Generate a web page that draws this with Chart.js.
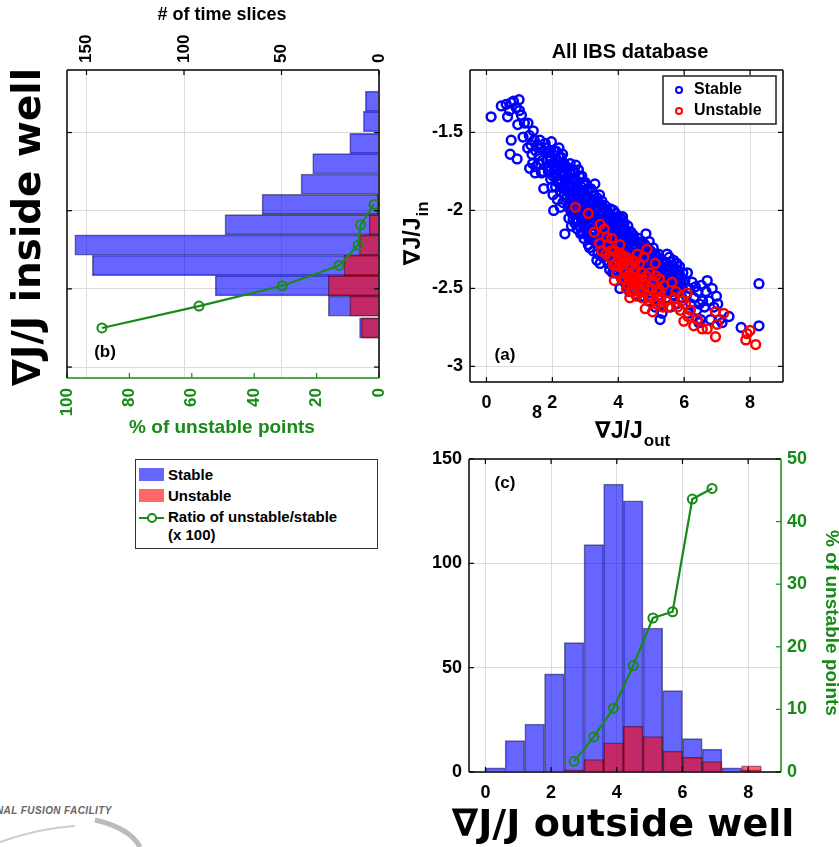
<!DOCTYPE html>
<html>
<head>
<meta charset="utf-8">
<script src="https://cdn.jsdelivr.net/npm/chart.js@4.4.0/dist/chart.umd.min.js"></script>
<style>
  body { margin: 0; background: #fff; width: 839px; height: 847px; position: relative; overflow: hidden; font-family: "Liberation Sans", Arial, sans-serif; }
  canvas { position: absolute; }
  #cb { left: 0; top: 0; }
  #ca { left: 400px; top: 0; }
  #cc { left: 400px; top: 440px; }
  .abs { position: absolute; }
  #leg { left: 135px; top: 459px; width: 241px; height: 88px; border: 1.5px solid #333; background: #fff; }
  #leg span { position: absolute; font-weight: bold; font-size: 15px; color: #000; line-height: 17px; white-space: nowrap; }
  #leg i { position: absolute; display: block; }
  #wm { left: -4px; top: 805px; font: italic bold 10px "Liberation Sans", Arial, sans-serif; color: #666; letter-spacing: 0.4px; }
</style>
</head>
<body>
<canvas id="cb" width="400" height="450"></canvas>
<canvas id="ca" width="439" height="450"></canvas>
<canvas id="cc" width="439" height="407"></canvas>

<div id="leg" class="abs">
  <i style="left:3px;top:8px;width:25px;height:13px;background:rgba(0,0,255,0.6)"></i>
  <span style="left:32px;top:6px">Stable</span>
  <i style="left:3px;top:29px;width:25px;height:13px;background:rgba(255,0,0,0.6)"></i>
  <span style="left:32px;top:27px">Unstable</span>
  <i style="left:3px;top:57px;width:25px;height:2px;background:#178a17"></i>
  <i style="left:11px;top:53px;width:6px;height:6px;border:2px solid #178a17;border-radius:50%;background:#fff"></i>
  <span style="left:32px;top:48px">Ratio of unstable/stable</span>
  <span style="left:32px;top:66px">(x 100)</span>
</div>

<div id="wm" class="abs">NAL FUSION FACILITY</div>
<svg class="abs" style="left:0;top:812px" width="170" height="35">
  <path d="M0 30 Q40 16 75 14" stroke="#ccc" stroke-width="2" fill="none"/>
  <path d="M95 8 Q130 16 140 35" stroke="#bbb" stroke-width="5" fill="none"/>
</svg>

<script>
const GREEN = '#178a17';
const GRID = '#dcdcdc';
const FONT = '"Liberation Sans", "DejaVu Sans", Arial, sans-serif';
const BIG = '"DejaVu Sans", sans-serif';

// panel (b): histogram of grad J/J inside the well (horizontal bars)
const inBins = [-1.30, -1.43, -1.57, -1.70, -1.83, -1.96, -2.09, -2.22, -2.35, -2.48, -2.61, -2.75];
const inStable = [7, 8, 15, 34, 40, 60, 79, 156, 147, 84, 26, 10];
const inUnstable = [0, 0, 0, 0, 0, 1, 5, 10, 18, 26, 15, 9];
const inRatioY = [-1.96, -2.09, -2.22, -2.35, -2.48, -2.61, -2.75];
const inRatio = [1.6, 5.9, 6.7, 12.8, 31, 57.7, 88.8];
const inTicks = [-3, -2.5, -2, -1.5];
const sliceTicks = [0, 50, 100, 150];
const pctTicks = [0, 20, 40, 60, 80, 100];

// panel (c): histogram of grad J/J outside the well
const outBins = [0.3, 0.9, 1.5, 2.1, 2.7, 3.3, 3.9, 4.5, 5.1, 5.7, 6.3, 6.9, 7.5, 8.1];
const outStable = [2, 15, 23, 47, 62, 109, 138, 130, 69, 39, 16, 11, 2, 1];
const outUnstable = [0, 0, 0, 0, 1, 6, 14, 22, 17, 10, 7, 5, 0, 3];
const outRatioX = [2.7, 3.3, 3.9, 4.5, 5.1, 5.7, 6.3, 6.9];
const outRatio = [1.7, 5.6, 10.2, 17, 24.6, 25.6, 43.6, 45.3];
const outTicks = [0, 2, 4, 6, 8];
const countTicks = [0, 50, 100, 150];
const pct50Ticks = [0, 10, 20, 30, 40, 50];

// panel (a): all IBS database, [grad J/J out, grad J/J in]
const stablePts = [
  [0.14,-1.40],[0.45,-1.33],[0.60,-1.32],[0.75,-1.31],[0.99,-1.29],[0.90,-1.34],[0.64,-1.40],[1.06,-1.39],[0.95,-1.45],
  [0.75,-1.55],[1.11,-1.53],[0.72,-1.64],[0.93,-1.67],[0.82,-1.30],[1.00,-1.36],[0.70,-1.36],[1.15,-1.44],
  [1.26,-1.44],[1.42,-1.49],[1.31,-1.73],[1.67,-1.76],[1.30,-1.52],[1.35,-1.58],[1.45,-1.55],[1.50,-1.62],[1.55,-1.58],
  [1.60,-1.65],[1.40,-1.70],[1.50,-1.72],[1.65,-1.60],[1.70,-1.68],[1.75,-1.62],[1.25,-1.60],[1.38,-1.64],[1.58,-1.70],
  [1.72,-1.75],[1.48,-1.76],[1.78,-1.57],[1.62,-1.55],[1.74,-1.86],
  [1.82,-1.60],[1.85,-1.68],[1.88,-1.75],[1.92,-1.63],[1.95,-1.80],[1.97,-1.56],[2.00,-1.70],[2.04,-2.00],[2.05,-1.62],
  [2.08,-1.77],[2.10,-1.85],[2.12,-1.67],[2.15,-1.93],[2.18,-1.72],[2.20,-1.60],[2.22,-1.80],[2.25,-1.88],[2.27,-1.66],
  [2.30,-1.75],[2.32,-1.95],[2.35,-1.70],[2.38,-2.15],[2.38,-1.83],[1.90,-1.72],[2.02,-1.90],[2.13,-1.78],[2.28,-1.82],[2.36,-1.90],
  [1.84,-1.72],[1.93,-1.68],[1.99,-1.85],[2.06,-1.72],[2.11,-1.62],[2.16,-1.82],[2.21,-1.70],[2.26,-1.77],[2.31,-1.64],
  [2.33,-1.86],[2.39,-1.76],[2.24,-1.98],
  [2.20,-1.66],[2.26,-1.72],[2.34,-1.78],[2.40,-1.86],[2.10,-1.74],[2.02,-1.78],[1.96,-1.66],[1.88,-1.62],
  [2.42,-1.72],[2.44,-1.80],[2.46,-1.88],[2.48,-1.98],[2.50,-2.05],[2.52,-1.76],[2.55,-1.92],[2.57,-1.84],[2.60,-2.02],
  [2.62,-1.74],[2.64,-1.97],[2.66,-1.88],[2.68,-2.08],[2.70,-1.80],[2.71,-1.71],[2.73,-1.95],[2.75,-2.12],[2.77,-1.86],
  [2.80,-2.02],[2.82,-1.78],[2.84,-1.92],[2.86,-2.15],[2.88,-1.85],[2.90,-2.07],[2.92,-1.98],[2.94,-1.82],[2.96,-2.18],
  [2.98,-1.90],[2.50,-1.84],[2.58,-2.10],[2.65,-1.80],[2.78,-1.96],[2.87,-2.00],[2.95,-2.10],
  [2.43,-1.92],[2.47,-1.78],[2.51,-1.96],[2.54,-1.70],[2.56,-2.00],[2.59,-1.80],[2.61,-1.90],[2.63,-2.06],[2.67,-1.94],
  [2.69,-1.76],[2.72,-2.02],[2.74,-1.88],[2.76,-2.06],[2.79,-1.74],[2.81,-1.90],[2.83,-2.10],[2.85,-1.98],[2.89,-1.78],
  [2.91,-2.14],[2.93,-1.88],[2.97,-2.02],[2.99,-1.82],
  [2.45,-1.84],[2.53,-1.88],[2.57,-1.94],[2.62,-1.84],[2.66,-2.00],[2.70,-1.92],[2.74,-1.82],[2.78,-2.06],[2.82,-1.96],
  [2.86,-1.88],[2.90,-1.94],[2.94,-2.04],[2.98,-1.96],
  [3.00,-1.84],[3.02,-1.95],[3.04,-2.05],[3.05,-2.15],[3.07,-1.88],[3.09,-2.22],[3.10,-2.00],[3.12,-1.92],[3.14,-2.10],
  [3.16,-1.86],[3.18,-2.18],[3.20,-2.03],[3.22,-1.96],[3.24,-2.26],[3.26,-1.90],[3.27,-2.12],[3.29,-1.83],[3.30,-2.05],
  [3.32,-2.20],[3.34,-1.98],[3.36,-1.92],[3.38,-2.28],[3.40,-2.08],[3.42,-2.15],[3.44,-1.96],[3.46,-2.02],[3.48,-2.24],
  [3.50,-1.94],[3.52,-2.12],[3.54,-2.30],[3.56,-2.00],[3.58,-2.18],[3.08,-2.08],[3.15,-2.00],[3.23,-2.14],[3.33,-2.10],
  [3.41,-2.00],[3.51,-2.05],[3.57,-2.25],[3.13,-2.24],[3.35,-2.32],[3.45,-2.34],
  [3.01,-2.10],[3.03,-1.90],[3.06,-2.00],[3.11,-2.18],[3.17,-1.95],[3.19,-2.08],[3.21,-1.88],[3.25,-2.05],[3.28,-2.20],
  [3.31,-1.94],[3.37,-2.04],[3.39,-2.18],[3.43,-1.90],[3.47,-2.10],[3.49,-2.02],[3.53,-1.98],[3.55,-2.20],[3.59,-2.06],
  [3.28,-2.00],[3.47,-2.16],
  [3.02,-2.02],[3.06,-1.93],[3.10,-2.08],[3.14,-1.96],[3.18,-2.02],[3.22,-2.08],[3.26,-1.98],[3.30,-2.14],[3.34,-2.04],
  [3.38,-1.98],[3.42,-2.06],[3.46,-1.96],[3.50,-2.16],[3.54,-2.08],[3.58,-2.00],
  [3.60,-1.97],[3.62,-2.08],[3.64,-2.20],[3.66,-2.32],[3.68,-2.02],[3.70,-2.14],[3.72,-2.26],[3.74,-2.38],[3.76,-1.99],
  [3.78,-2.10],[3.80,-2.22],[3.82,-2.34],[3.84,-2.05],[3.86,-2.16],[3.88,-2.28],[3.90,-2.40],[3.92,-2.02],[3.94,-2.12],
  [3.96,-2.24],[3.98,-2.36],[4.00,-2.08],[4.02,-2.18],[4.04,-2.30],[4.05,-2.50],[4.06,-2.42],[4.08,-2.05],[4.10,-2.14],
  [4.12,-2.26],[4.14,-2.38],[4.16,-2.10],[4.18,-2.20],[4.19,-2.46],[3.65,-2.00],[3.71,-2.05],[3.79,-2.30],[3.87,-2.08],
  [3.95,-2.30],[4.03,-2.12],[4.11,-2.34],[4.17,-2.28],[3.73,-2.18],[3.89,-2.20],[3.97,-2.16],[4.09,-2.22],
  [3.61,-2.14],[3.63,-2.26],[3.67,-2.10],[3.69,-2.20],[3.75,-2.12],[3.77,-2.24],[3.81,-2.04],[3.83,-2.16],[3.85,-2.26],
  [3.91,-2.08],[3.93,-2.32],[3.99,-2.04],[4.01,-2.26],[4.07,-2.16],[4.13,-2.04],[4.15,-2.30],[4.21,-2.40],[3.69,-2.34],
  [3.83,-2.40],[4.01,-2.40],
  [3.62,-2.02],[3.66,-2.16],[3.70,-2.08],[3.74,-2.02],[3.78,-2.18],[3.82,-2.10],[3.86,-2.00],[3.90,-2.14],[3.94,-2.06],
  [3.98,-2.20],[4.02,-2.06],[4.06,-2.10],[4.10,-2.20],[4.14,-2.16],[4.18,-2.08],
  [4.20,-2.12],[4.22,-2.24],[4.24,-2.34],[4.26,-2.46],[4.28,-2.16],[4.30,-2.28],[4.32,-2.40],[4.34,-2.52],[4.36,-2.14],
  [4.38,-2.22],[4.40,-2.32],[4.42,-2.44],[4.44,-2.18],[4.46,-2.28],[4.48,-2.38],[4.50,-2.50],[4.52,-2.20],[4.54,-2.30],
  [4.56,-2.42],[4.58,-2.54],[4.60,-2.24],[4.62,-2.34],[4.64,-2.46],[4.66,-2.22],[4.68,-2.32],[4.70,-2.44],[4.72,-2.55],
  [4.74,-2.26],[4.76,-2.36],[4.78,-2.48],[4.25,-2.20],[4.35,-2.30],[4.45,-2.24],[4.55,-2.36],[4.65,-2.30],[4.75,-2.42],
  [4.33,-2.18],[4.53,-2.26],[4.71,-2.30],
  [4.23,-2.16],[4.27,-2.36],[4.29,-2.10],[4.31,-2.22],[4.37,-2.40],[4.39,-2.14],[4.41,-2.26],[4.43,-2.36],[4.47,-2.20],
  [4.49,-2.30],[4.51,-2.44],[4.57,-2.20],[4.59,-2.34],[4.61,-2.18],[4.63,-2.40],[4.67,-2.26],[4.69,-2.38],[4.73,-2.20],
  [4.77,-2.30],[4.79,-2.40],
  [4.22,-2.18],[4.26,-2.24],[4.30,-2.16],[4.34,-2.24],[4.38,-2.18],[4.42,-2.22],[4.46,-2.16],[4.50,-2.26],[4.54,-2.22],
  [4.58,-2.26],[4.62,-2.28],[4.66,-2.36],[4.70,-2.24],[4.74,-2.32],[4.78,-2.24],
  [4.80,-2.28],[4.82,-2.38],[4.84,-2.15],[4.86,-2.50],[4.88,-2.30],[4.90,-2.40],[4.92,-2.58],[4.95,-2.26],[4.98,-2.35],
  [5.00,-2.46],[5.02,-2.56],[5.05,-2.30],[5.08,-2.40],[5.10,-2.52],[5.12,-2.62],[5.15,-2.34],[5.18,-2.44],[5.20,-2.55],
  [5.22,-2.28],[5.25,-2.38],[5.27,-2.70],[5.28,-2.48],[5.30,-2.60],[5.32,-2.32],[5.35,-2.42],[5.38,-2.52],[4.94,-2.20],
  [5.06,-2.24],[5.33,-2.66],[5.14,-2.48],
  [4.81,-2.22],[4.83,-2.46],[4.87,-2.35],[4.91,-2.28],[4.97,-2.44],[4.99,-2.30],[5.03,-2.36],[5.07,-2.48],[5.11,-2.28],
  [5.16,-2.40],[5.19,-2.30],[5.24,-2.46],[5.29,-2.36],[5.34,-2.50],[5.37,-2.40],
  [4.82,-2.30],[4.86,-2.26],[4.90,-2.34],[4.94,-2.30],[4.98,-2.26],[5.02,-2.32],[5.06,-2.36],[5.10,-2.32],[5.14,-2.38],
  [5.18,-2.36],[5.22,-2.34],[5.26,-2.42],[5.30,-2.40],[5.34,-2.36],[5.38,-2.44],
  [5.40,-2.34],[5.43,-2.46],[5.46,-2.56],[5.48,-2.28],[5.52,-2.40],[5.55,-2.50],[5.58,-2.62],[5.60,-2.33],[5.63,-2.44],
  [5.66,-2.54],[5.70,-2.38],[5.73,-2.48],[5.76,-2.60],[5.80,-2.42],[5.83,-2.52],[5.86,-2.36],[5.90,-2.46],[5.93,-2.56],
  [5.96,-2.40],[5.55,-2.30],[5.68,-2.32],[5.78,-2.34],
  [5.42,-2.40],[5.47,-2.34],[5.50,-2.48],[5.57,-2.40],[5.62,-2.52],[5.67,-2.42],[5.72,-2.40],[5.82,-2.46],[5.88,-2.42],
  [5.95,-2.50],[5.44,-2.38],[5.50,-2.36],[5.56,-2.44],[5.62,-2.38],[5.68,-2.46],[5.74,-2.44],[5.80,-2.38],[5.86,-2.48],
  [5.92,-2.44],
  [6.02,-2.45],[6.06,-2.55],[6.10,-2.40],[6.15,-2.50],[6.20,-2.60],[6.24,-2.46],[6.30,-2.56],[6.34,-2.49],[6.38,-2.64],
  [6.42,-2.52],[6.46,-2.60],[6.50,-2.70],[6.52,-2.48],[6.56,-2.58],[6.12,-2.66],[6.45,-2.72],
  [6.62,-2.62],[6.66,-2.52],[6.70,-2.45],[6.75,-2.58],[6.85,-2.50],[6.90,-2.62],[6.98,-2.55],[7.02,-2.60],[7.08,-2.70],
  [6.80,-2.70],[7.15,-2.72],
  [7.36,-2.68],[7.73,-2.75],[8.27,-2.47],[8.27,-2.74]
];
const unstablePts = [
  [2.70,-1.98],[3.09,-2.02],[3.45,-2.09],[3.27,-2.14],[3.43,-2.21],[3.65,-2.17],[3.50,-2.26],[3.58,-2.12],
  [3.70,-2.22],[3.75,-2.30],[3.80,-2.18],[3.85,-2.35],[3.90,-2.26],[3.95,-2.40],[4.00,-2.32],[4.05,-2.22],[4.10,-2.44],
  [4.15,-2.30],[3.88,-2.45],[4.18,-2.38],[3.62,-2.28],[3.98,-2.28],
  [4.02,-2.36],[4.12,-2.34],[3.92,-2.34],[3.78,-2.26],[4.08,-2.28],
  [4.22,-2.40],[4.26,-2.30],[4.30,-2.48],[4.34,-2.36],[4.38,-2.52],[4.40,-2.42],[4.44,-2.32],[4.48,-2.46],[4.52,-2.38],
  [4.55,-2.55],[4.58,-2.28],[4.60,-2.44],[4.64,-2.34],[4.66,-2.50],[4.70,-2.40],[4.72,-2.56],[4.76,-2.46],[4.78,-2.30],
  [4.35,-2.56],[4.50,-2.33],[4.62,-2.52],[4.25,-2.50],
  [4.20,-2.44],[4.28,-2.42],[4.32,-2.32],[4.42,-2.50],[4.46,-2.40],[4.56,-2.46],[4.68,-2.44],[4.74,-2.52],
  [4.82,-2.63],[4.87,-2.25],[4.90,-2.50],[4.95,-2.40],[5.00,-2.56],[5.04,-2.65],[5.08,-2.46],[5.12,-2.34],[5.16,-2.52],
  [5.20,-2.60],[5.25,-2.44],[5.30,-2.56],[5.35,-2.62],[4.85,-2.42],[5.10,-2.58],[5.22,-2.50],[5.38,-2.48],
  [4.80,-2.48],[4.92,-2.56],[5.02,-2.50],[5.14,-2.42],[5.28,-2.52],
  [5.45,-2.58],[5.52,-2.62],[5.63,-2.46],[5.70,-2.56],[5.75,-2.52],[5.88,-2.64],[5.92,-2.58],[5.99,-2.71],[5.80,-2.62],
  [6.04,-2.60],[6.09,-2.53],[6.19,-2.64],[6.29,-2.74],[6.40,-2.70],[6.55,-2.76],[6.12,-2.68],
  [6.70,-2.76],[6.95,-2.81],[7.00,-2.73],[6.95,-2.65],[7.20,-2.66],
  [7.91,-2.79],[7.87,-2.83],[8.17,-2.86],[8.00,-2.77]
];

Chart.defaults.animation = false;
Chart.defaults.font.family = FONT;
Chart.defaults.color = '#000';
Chart.defaults.plugins.legend.display = false;
Chart.defaults.plugins.tooltip.enabled = false;

function setTicks(list) {
  return s => { s.ticks = list.map(v => ({ value: v })); };
}
function fixH(h) {
  return s => { s.height = h; s.paddingLeft = s.paddingRight = s.paddingTop = s.paddingBottom = 0; };
}
function fixW(w) {
  return s => { s.width = w; s.paddingLeft = s.paddingRight = s.paddingTop = s.paddingBottom = 0; };
}
function tickFont(size) { return { size: size, weight: 'bold', family: FONT }; }

// chart area frame, colours [top, right, bottom, left]
function frame(ctx, a, cols) {
  const seg = [[a.left, a.top, a.right, a.top], [a.right, a.top, a.right, a.bottom],
               [a.left, a.bottom, a.right, a.bottom], [a.left, a.top, a.left, a.bottom]];
  ctx.save();
  ctx.lineWidth = 1.5;
  seg.forEach((s, i) => {
    ctx.strokeStyle = cols[i];
    ctx.beginPath(); ctx.moveTo(s[0], s[1]); ctx.lineTo(s[2], s[3]); ctx.stroke();
  });
  ctx.restore();
}
// MATLAB style ticks pointing inside the box
function marks(ctx, a, scale, sides, color) {
  const L = 5;
  ctx.save();
  ctx.strokeStyle = color; ctx.lineWidth = 1.2;
  scale.ticks.forEach(t => {
    const p = scale.getPixelForValue(t.value);
    sides.forEach(s => {
      ctx.beginPath();
      if (s === 'top') { ctx.moveTo(p, a.top); ctx.lineTo(p, a.top + L); }
      if (s === 'bottom') { ctx.moveTo(p, a.bottom); ctx.lineTo(p, a.bottom - L); }
      if (s === 'left') { ctx.moveTo(a.left, p); ctx.lineTo(a.left + L, p); }
      if (s === 'right') { ctx.moveTo(a.right, p); ctx.lineTo(a.right - L, p); }
      ctx.stroke();
    });
  });
  ctx.restore();
}
function text(ctx, s, x, y, font, color, rot, align) {
  ctx.save();
  ctx.translate(x, y);
  if (rot) ctx.rotate(rot);
  ctx.font = font; ctx.fillStyle = color || '#000';
  ctx.textAlign = align || 'center'; ctx.textBaseline = 'middle';
  ctx.fillText(s, 0, 0);
  ctx.restore();
}
// label with a subscript, centred on x,y
function subText(ctx, main, sub, x, y, size, rot) {
  const f1 = 'bold ' + size + 'px ' + FONT, f2 = 'bold ' + Math.round(size * 0.75) + 'px ' + FONT;
  ctx.save();
  ctx.translate(x, y);
  if (rot) ctx.rotate(rot);
  ctx.font = f1; const w1 = ctx.measureText(main).width;
  ctx.font = f2; const w2 = ctx.measureText(sub).width;
  const x0 = -(w1 + w2) / 2;
  ctx.fillStyle = '#000'; ctx.textAlign = 'left'; ctx.textBaseline = 'alphabetic';
  ctx.font = f1; ctx.fillText(main, x0, size * 0.36);
  ctx.font = f2; ctx.fillText(sub, x0 + w1 + 1, size * 0.36 + size * 0.32);
  ctx.restore();
}
// big label sized to a given length
function bigText(ctx, s, x, y, len, rot) {
  ctx.save();
  ctx.font = 'bold 40px ' + BIG;
  const size = 40 * len / ctx.measureText(s).width;
  ctx.restore();
  text(ctx, s, x, y, 'bold ' + size.toFixed(1) + 'px ' + BIG, '#000', rot);
}

// ---------- panel (b)
new Chart(document.getElementById('cb'), {
  type: 'bar',
  data: {
    datasets: [
      {
        type: 'line', label: 'Ratio of unstable/stable (x 100)',
        data: inRatio.map((v, i) => ({ x: v, y: inRatioY[i] })),
        xAxisID: 'xBot', yAxisID: 'y', order: 0,
        borderColor: GREEN, borderWidth: 2.2, pointRadius: 4.5, pointBorderWidth: 2,
        pointBorderColor: GREEN, pointBackgroundColor: 'rgba(0,0,0,0)', tension: 0
      },
      {
        label: 'Unstable', indexAxis: 'y', xAxisID: 'xTop', yAxisID: 'y', order: 1,
        data: inBins.map((b, i) => ({ y: b, x: inUnstable[i] })).filter(d => d.x > 0),
        backgroundColor: 'rgba(255,0,0,0.6)', borderColor: 'rgba(40,0,30,0.55)', borderWidth: 1,
        barPercentage: 1, categoryPercentage: 1, grouped: false
      },
      {
        label: 'Stable', indexAxis: 'y', xAxisID: 'xTop', yAxisID: 'y', order: 2,
        data: inBins.map((b, i) => ({ y: b, x: inStable[i] })).filter(d => d.x > 0),
        backgroundColor: 'rgba(0,0,255,0.6)', borderColor: 'rgba(0,0,60,0.55)', borderWidth: 1,
        barPercentage: 1, categoryPercentage: 1, grouped: false
      }
    ]
  },
  options: {
    responsive: false,
    layout: { padding: { right: 21 } },
    scales: {
      y: {
        type: 'linear', position: 'left', min: -3.07, max: -1.1, offset: false,
        afterBuildTicks: setTicks(inTicks), afterFit: fixW(67),
        ticks: { display: false },
        grid: { color: GRID, drawTicks: false, offset: false }, border: { display: false }
      },
      xTop: {
        type: 'linear', position: 'top', reverse: true, min: 0, max: 160, offset: false,
        afterBuildTicks: setTicks(sliceTicks), afterFit: fixH(70),
        ticks: { display: false },
        grid: { color: GRID, drawTicks: false, offset: false }, border: { display: false }
      },
      xBot: {
        type: 'linear', position: 'bottom', reverse: true, min: 0, max: 100, offset: false,
        afterBuildTicks: setTicks(pctTicks), afterFit: fixH(72),
        ticks: { display: false },
        grid: { display: false, drawTicks: false, offset: false }, border: { display: false }
      }
    }
  },
  plugins: [{
    id: 'decorB',
    afterDraw(chart) {
      const ctx = chart.ctx, a = chart.chartArea;
      const top = chart.scales.xTop, bot = chart.scales.xBot;
      marks(ctx, a, chart.scales.y, ['left', 'right'], '#000');
      marks(ctx, a, top, ['top'], '#000');
      marks(ctx, a, bot, ['bottom'], GREEN);
      frame(ctx, a, ['#000', '#000', GREEN, '#000']);
      // rotated tick labels, reading upwards
      sliceTicks.forEach(v => text(ctx, String(v), top.getPixelForValue(v), a.top - 7, 'bold 17px ' + FONT, '#000', -Math.PI / 2, 'left'));
      pctTicks.forEach(v => text(ctx, String(v), bot.getPixelForValue(v), a.bottom + 10, 'bold 17px ' + FONT, GREEN, -Math.PI / 2, 'right'));
      text(ctx, '# of time slices', 222, 15, 'bold 18px ' + FONT, '#000');
      text(ctx, '% of unstable points', 222, 428, 'bold 19px ' + FONT, GREEN);
      text(ctx, '(b)', 105, 352, 'bold 17px ' + FONT, '#000');
      bigText(ctx, '\u2207J/J inside well', 30, 227, 318, -Math.PI / 2);
    }
  }]
});

// ---------- panel (a)
new Chart(document.getElementById('ca'), {
  type: 'scatter',
  data: {
    datasets: [
      {
        label: 'Unstable', data: unstablePts.map(p => ({ x: p[0], y: p[1] })),
        pointRadius: 4.4, pointBorderWidth: 2.5, pointBorderColor: '#ff0000',
        pointBackgroundColor: 'rgba(0,0,0,0)', borderColor: '#ff0000', backgroundColor: 'rgba(0,0,0,0)'
      },
      {
        label: 'Stable', data: stablePts.map(p => ({ x: p[0], y: p[1] })),
        pointRadius: 4.4, pointBorderWidth: 2.5, pointBorderColor: '#0000ff',
        pointBackgroundColor: 'rgba(0,0,0,0)', borderColor: '#0000ff', backgroundColor: 'rgba(0,0,0,0)'
      }
    ]
  },
  options: {
    responsive: false,
    layout: { padding: { top: 70, right: 56 } },
    scales: {
      x: {
        type: 'linear', min: -0.5, max: 9,
        afterBuildTicks: setTicks(outTicks), afterFit: fixH(68),
        ticks: { font: tickFont(18), color: '#000', padding: 10, maxRotation: 0 },
        grid: { color: GRID, drawTicks: false }, border: { display: false }
      },
      y: {
        type: 'linear', min: -3.1, max: -1.1,
        afterBuildTicks: setTicks(inTicks), afterFit: fixW(70),
        ticks: { font: tickFont(18), color: '#000', padding: 7, callback: v => String(v) },
        grid: { color: GRID, drawTicks: false }, border: { display: false }
      }
    }
  },
  plugins: [{
    id: 'decorA',
    afterDraw(chart) {
      const ctx = chart.ctx, a = chart.chartArea;
      marks(ctx, a, chart.scales.x, ['top', 'bottom'], '#000');
      marks(ctx, a, chart.scales.y, ['left', 'right'], '#000');
      frame(ctx, a, ['#000', '#000', '#000', '#000']);
      text(ctx, 'All IBS database', 230, 52, 'bold 20px ' + FONT, '#000');
      text(ctx, '(a)', 105, 355, 'bold 17px ' + FONT, '#000');
      text(ctx, '8', 137, 413, 'bold 18px ' + FONT, '#000');
      subText(ctx, '\u2207J/J', 'out', 232, 430, 23, 0);
      subText(ctx, '\u2207J/J', 'in', 12, 234, 23, -Math.PI / 2);
      // legend box
      ctx.save();
      ctx.fillStyle = '#fff'; ctx.fillRect(263, 76, 113, 48);
      ctx.strokeStyle = '#222'; ctx.lineWidth = 1.5; ctx.strokeRect(263, 76, 113, 48);
      ctx.lineWidth = 2;
      ctx.strokeStyle = '#0000ff'; ctx.beginPath(); ctx.arc(279, 90, 3, 0, Math.PI * 2); ctx.stroke();
      ctx.strokeStyle = '#ff0000'; ctx.beginPath(); ctx.arc(279, 111, 3, 0, Math.PI * 2); ctx.stroke();
      ctx.restore();
      ctx.save();
      ctx.font = 'bold 16px ' + FONT; ctx.fillStyle = '#000'; ctx.textBaseline = 'middle'; ctx.textAlign = 'left';
      ctx.fillText('Stable', 294, 90);
      ctx.fillText('Unstable', 294, 111);
      ctx.restore();
    }
  }]
});

// ---------- panel (c)
new Chart(document.getElementById('cc'), {
  type: 'bar',
  data: {
    datasets: [
      {
        type: 'line', label: 'Ratio of unstable/stable (x 100)',
        data: outRatio.map((v, i) => ({ x: outRatioX[i], y: v })),
        xAxisID: 'x', yAxisID: 'y2', order: 0,
        borderColor: GREEN, borderWidth: 2.2, pointRadius: 4.5, pointBorderWidth: 2,
        pointBorderColor: GREEN, pointBackgroundColor: 'rgba(0,0,0,0)', tension: 0
      },
      {
        label: 'Unstable', xAxisID: 'x', yAxisID: 'y', order: 1,
        data: outBins.map((b, i) => ({ x: b, y: outUnstable[i] })).filter(d => d.y > 0),
        backgroundColor: 'rgba(255,0,0,0.6)', borderColor: 'rgba(40,0,30,0.55)', borderWidth: 1,
        barPercentage: 1, categoryPercentage: 1, grouped: false
      },
      {
        label: 'Stable', xAxisID: 'x', yAxisID: 'y', order: 2,
        data: outBins.map((b, i) => ({ x: b, y: outStable[i] })).filter(d => d.y > 0),
        backgroundColor: 'rgba(0,0,255,0.6)', borderColor: 'rgba(0,0,60,0.55)', borderWidth: 1,
        barPercentage: 1, categoryPercentage: 1, grouped: false
      }
    ]
  },
  options: {
    responsive: false,
    layout: { padding: { top: 19 } },
    scales: {
      x: {
        type: 'linear', min: -0.5, max: 9, offset: false,
        afterBuildTicks: setTicks(outTicks), afterFit: fixH(75),
        ticks: { font: tickFont(18), color: '#000', padding: 10, maxRotation: 0 },
        grid: { color: GRID, drawTicks: false, offset: false }, border: { display: false }
      },
      y: {
        type: 'linear', position: 'left', min: 0, max: 150,
        afterBuildTicks: setTicks(countTicks), afterFit: fixW(69),
        ticks: { font: tickFont(18), color: '#000', padding: 7 },
        grid: { color: GRID, drawTicks: false }, border: { display: false }
      },
      y2: {
        type: 'linear', position: 'right', min: 0, max: 50,
        afterBuildTicks: setTicks(pct50Ticks), afterFit: fixW(58),
        ticks: { font: tickFont(18), color: GREEN, padding: 6 },
        grid: { display: false, drawTicks: false }, border: { display: false }
      }
    }
  },
  plugins: [{
    id: 'decorC',
    afterDraw(chart) {
      const ctx = chart.ctx, a = chart.chartArea;
      marks(ctx, a, chart.scales.x, ['top', 'bottom'], '#000');
      marks(ctx, a, chart.scales.y, ['left'], '#000');
      marks(ctx, a, chart.scales.y2, ['right'], GREEN);
      frame(ctx, a, ['#000', GREEN, '#000', '#000']);
      text(ctx, '(c)', 105, 43, 'bold 17px ' + FONT, '#000');
      text(ctx, '% of unstable points', 431, 183, 'bold 19px ' + FONT, GREEN, Math.PI / 2);
      bigText(ctx, '\u2207J/J outside well', 223, 386, 343, 0);
    }
  }]
});
</script>
</body>
</html>
